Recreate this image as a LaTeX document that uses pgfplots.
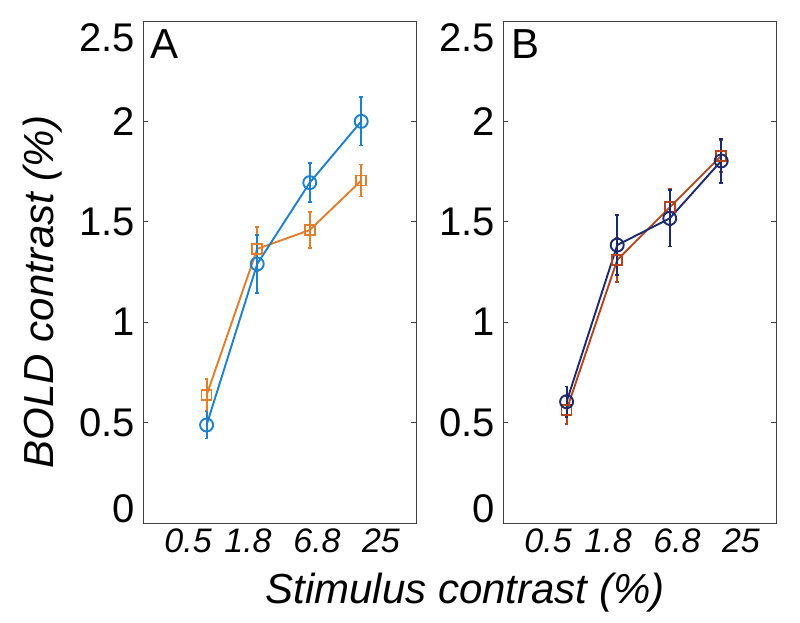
\documentclass[border=0pt]{standalone}
\usepackage{fontspec}
\setmainfont{Liberation Sans}
\usepackage{pgfplots}
\pgfplotsset{compat=1.18}
\definecolor{cblue}{HTML}{1E80CC}
\definecolor{corange}{HTML}{E27D2C}
\definecolor{cnavy}{HTML}{1B2A6E}
\definecolor{cred}{HTML}{B4441C}
\begin{document}
\begin{tikzpicture}
\path[use as bounding box] (0pt,0pt) rectangle (800pt,623pt);
\begin{axis}[scale only axis, width=273pt, height=502pt,
    xmode=log, xmin=0.1, xmax=100, ymin=0, ymax=2.5,
    xtick={0.3126,1.426,8.17,41.2}, xticklabels={0.5,1.8,6.8,25},
    xminorticks=false, x tick style={draw=none},
    xticklabel style={font=\fontsize{34}{40}\selectfont\itshape, anchor=base, yshift=-30pt, inner sep=0pt},
    ytick={0.5,1,1.5,2}, yticklabels={0.5,1,1.5,2},
    extra y ticks={0.07,2.415}, extra y tick labels={0,2.5},
    extra y tick style={major tick length=0pt},
    yticklabel style={font=\fontsize{40}{48}\selectfont, inner sep=0pt, xshift=-8pt},
    major tick length=5pt,
    axis line style={black!75, line width=0.9pt},
    tick style={black!75, line width=0.8pt},
    clip=false, at={(143pt,100pt)}, anchor=south west]
\addplot[color=corange, line width=1.9pt, mark=square, mark size=5pt, mark options={solid, line width=1.7pt}, error bars/.cd, y dir=both, y explicit, error bar style={color=corange, line width=1.8pt}, error mark options={color=corange, line width=1.6pt, mark size=1.8pt, rotate=90}] coordinates {
 (0.5,0.637) +- (0,0.08)
 (1.8,1.365) +- (0,0.11)
 (6.8,1.459) +- (0,0.09)
 (25,1.705) +- (0,0.08)
};
\addplot[color=cblue, line width=1.9pt, mark=o, mark size=6.5pt, mark options={solid, line width=1.9pt}, error bars/.cd, y dir=both, y explicit, error bar style={color=cblue, line width=1.8pt}, error mark options={color=cblue, line width=1.6pt, mark size=1.8pt, rotate=90}] coordinates {
 (0.5,0.488) +- (0,0.067)
 (1.8,1.290) +- (0,0.145)
 (6.8,1.695) +- (0,0.097)
 (25,2.000) +- (0,0.12)
};
\node[anchor=north west, inner sep=0pt, font=\fontsize{42}{48}\selectfont, xshift=7pt, yshift=-8pt] at (rel axis cs:0,1) {A};
\end{axis}
\begin{axis}[scale only axis, width=273pt, height=502pt,
    xmode=log, xmin=0.1, xmax=100, ymin=0, ymax=2.5,
    xtick={0.3126,1.426,8.17,41.2}, xticklabels={0.5,1.8,6.8,25},
    xminorticks=false, x tick style={draw=none},
    xticklabel style={font=\fontsize{34}{40}\selectfont\itshape, anchor=base, yshift=-30pt, inner sep=0pt},
    ytick={0.5,1,1.5,2}, yticklabels={0.5,1,1.5,2},
    extra y ticks={0.07,2.415}, extra y tick labels={0,2.5},
    extra y tick style={major tick length=0pt},
    yticklabel style={font=\fontsize{40}{48}\selectfont, inner sep=0pt, xshift=-8pt},
    major tick length=5pt,
    axis line style={black!75, line width=0.9pt},
    tick style={black!75, line width=0.8pt},
    clip=false, at={(503pt,100pt)}, anchor=south west]
\addplot[color=cred, line width=1.9pt, mark=square, mark size=5pt, mark options={solid, line width=1.7pt}, error bars/.cd, y dir=both, y explicit, error bar style={color=cred, line width=1.8pt}, error mark options={color=cred, line width=1.6pt, mark size=1.8pt, rotate=90}] coordinates {
 (0.5,0.563) +- (0,0.07)
 (1.8,1.310) +- (0,0.11)
 (6.8,1.572) +- (0,0.09)
 (25,1.828) +- (0,0.08)
};
\addplot[color=cnavy, line width=1.9pt, mark=o, mark size=6.5pt, mark options={solid, line width=1.9pt}, error bars/.cd, y dir=both, y explicit, error bar style={color=cnavy, line width=1.8pt}, error mark options={color=cnavy, line width=1.6pt, mark size=1.8pt, rotate=90}] coordinates {
 (0.5,0.604) +- (0,0.075)
 (1.8,1.384) +- (0,0.15)
 (6.8,1.517) +- (0,0.14)
 (25,1.803) +- (0,0.11)
};
\node[anchor=north west, inner sep=0pt, font=\fontsize{42}{48}\selectfont, xshift=8pt, yshift=-8pt] at (rel axis cs:0,1) {B};
\end{axis}
\node[anchor=base, inner sep=0pt, font=\fontsize{42}{48}\selectfont\itshape] at (465pt,19pt) {Stimulus contrast (\%)};
\node[anchor=base, rotate=90, inner sep=0pt, font=\fontsize{42}{48}\selectfont\itshape] at (53pt,331pt) {BOLD contrast (\%)};
\end{tikzpicture}
\end{document}
